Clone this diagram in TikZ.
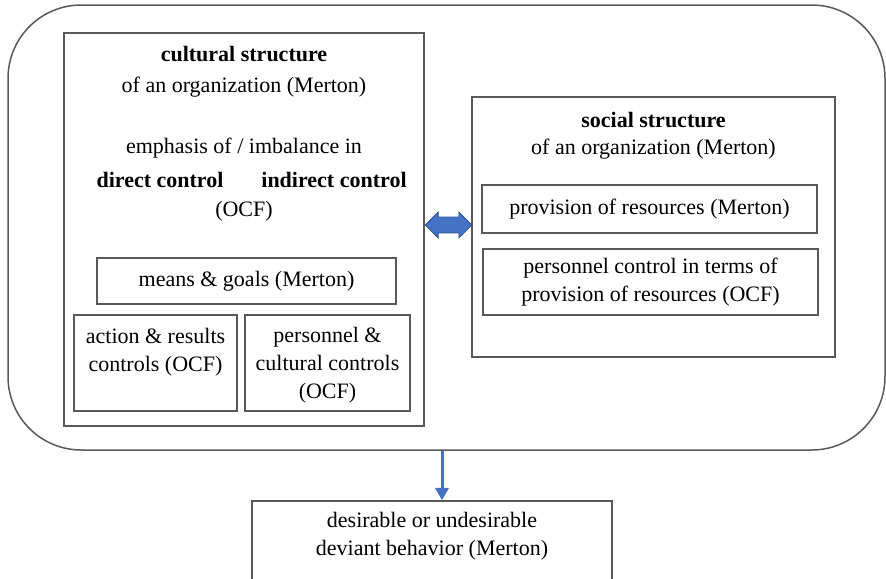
\documentclass[tikz,border=0pt]{standalone}
\usepackage{fontspec}
\setmainfont{Liberation Serif}
\usetikzlibrary{arrows.meta,positioning,shapes.arrows}

\definecolor{arrowblue}{HTML}{4472C4}
\definecolor{arrowedge}{HTML}{2F5597}

\begin{document}
\begin{tikzpicture}[x=0.6pt,y=-0.6pt,
    box/.style={draw=black!65,line width=0.9pt,inner sep=0pt},
    txt/.style={align=center,inner sep=0pt,font=\fontsize{13.2}{16.8}\selectfont},
    bold/.style={txt,font=\bfseries\fontsize{13.2}{16.8}\selectfont},
    node distance=0pt]
  \useasboundingbox (0,0) rectangle (886,578);

  % outer frame
  \node[box,rounded corners=44pt,minimum width=526.2pt,minimum height=267pt] (frame) at (446.5,227.5) {};

  % cultural structure
  \node[box,minimum width=216pt,minimum height=235.8pt] (cult) at (244,229.5) {};
  \node[bold] (culttitle) at (244,54) {cultural structure};
  \node[txt] (cultorg) at (244,87) {of an organization (Merton)};
  \node[txt] (emph) at (244,148) {emphasis of / imbalance in};
  \node[bold] (direct) at (160,180) {direct control};
  \node[bold] (indirect) at (334,180) {indirect control};
  \node[txt] (cultocf) at (244,211) {(OCF)};

  \node[box,minimum width=179.4pt,minimum height=27.6pt] (means) at (246.5,281) {};
  \node[txt] at (means) {means \& goals (Merton)};

  \node[box,minimum width=97.8pt,minimum height=57.6pt] (action) at (155.5,363) {};
  \node[txt] (actiontxt) at (155.5,352) {action \& results\\controls (OCF)};
  \node[box,minimum width=99pt,minimum height=57.6pt] (pers) at (327.5,363) {};
  \node[txt] (perstxt) at (327.5,365.5) {personnel \&\\cultural controls\\(OCF)};

  % social structure
  \node[box,minimum width=217.8pt,minimum height=156pt] (soc) at (653.5,227) {};
  \node[bold] (soctitle) at (653.5,120) {social structure};
  \node[txt] (socorg) at (653.5,149) {of an organization (Merton)};
  \node[box,minimum width=201pt,minimum height=28.8pt] (prov) at (649.5,209) {};
  \node[txt] at (prov) {provision of resources (Merton)};
  \node[box,minimum width=201pt,minimum height=39.6pt] (perctl) at (650.5,282) {};
  \node[txt] at (perctl) {personnel control in terms of\\provision of resources (OCF)};

  % outcome
  \node[box,minimum width=216pt,minimum height=48pt] (deviant) at (432,541) {};
  \node[txt] (devtxt) at (432,536.5) {desirable or undesirable\\deviant behavior (Merton)};

  % arrows
  \node[double arrow,draw=arrowedge,fill=arrowblue,line width=0.5pt,
        minimum width=15.5pt,minimum height=28pt,inner sep=0pt,
        double arrow head extend=2.5pt,shape border uses incircle=false]
        (link) at (448.5,225) {\phantom{\rule{14pt}{7.5pt}}};
  \coordinate (drop) at (frame.south -| 442,0);
  \draw[arrowblue,line width=1.8pt,-{Triangle[length=7.5pt,width=8pt]}]
        (drop) -- (drop |- deviant.north);
\end{tikzpicture}
\end{document}
